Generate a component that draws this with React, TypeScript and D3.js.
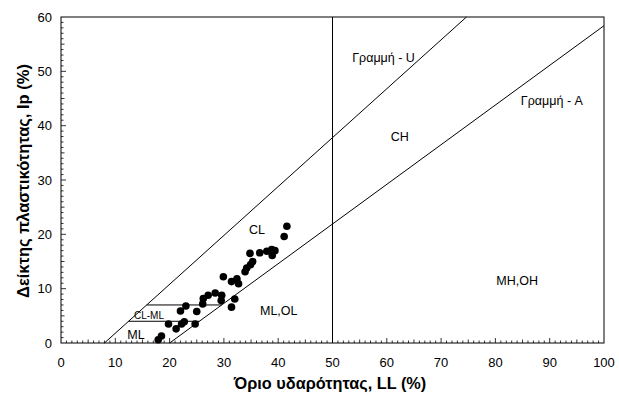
import * as d3 from 'd3';
import React, { useRef, useEffect } from 'react';

// liquid limit LL (%) and plasticity index Ip (%) of the samples
const liquidLimit = [17.9, 18.5, 19.8, 21.2, 22.2, 22.7, 24.7, 22.0, 23.0, 25.0, 26.1, 26.2, 27.1, 28.4, 29.6, 29.5, 29.9, 31.4, 31.4, 32.0, 32.4, 32.7, 33.9, 34.2, 34.9, 35.3, 34.8, 36.6, 37.9, 38.8, 39.4, 38.9, 41.1, 41.6];
const plasticityIndex = [0.6, 1.3, 3.5, 2.6, 3.5, 3.9, 3.5, 5.9, 6.8, 5.8, 7.2, 8.2, 8.8, 9.2, 8.8, 7.8, 12.2, 11.3, 6.6, 8.1, 11.8, 10.9, 13.1, 13.8, 14.4, 15.0, 16.5, 16.6, 16.9, 17.2, 17.0, 16.1, 19.6, 21.5];

const xTicks = [0, 10, 20, 30, 40, 50, 60, 70, 80, 90, 100];
const yTicks = [0, 10, 20, 30, 40, 50, 60];

// zone labels [LL, Ip, text, fontSize]
const zoneLabels: [number, number, string, number][] = [
  [59.4, 51.8, 'Γραμμή - U', 12.5],
  [90.4, 43.8, 'Γραμμή - A', 12.5],
  [62.4, 37.1, 'CH', 12.5],
  [84.0, 10.6, 'MH,OH', 12.5],
  [36.1, 20.1, 'CL', 12.5],
  [40.1, 5.1, 'ML,OL', 12.5],
  [16.2, 4.5, 'CL-ML', 10],
  [13.8, 0.7, 'ML', 12.5],
];

function App() {
  const ref = useRef<SVGSVGElement>(null);
  const width = 619, height = 401;
  const left = 61, right = 604, top = 17, bottom = 343;

  useEffect(() => {
    const svg = d3.select(ref.current);
    svg.selectAll('*').remove();
    const font = 'Arial, "Liberation Sans", sans-serif';

    const x = d3.scaleLinear().domain([0, 100]).range([left, right]);
    const y = d3.scaleLinear().domain([0, 60]).range([bottom, top]);

    const g = svg.append('g');

    // frame
    g.append('rect')
      .attr('x', left).attr('y', top)
      .attr('width', right - left).attr('height', bottom - top)
      .attr('fill', 'none').attr('stroke', '#000').attr('stroke-width', 1);

    // minor / major inward ticks
    const tickLen = (v: number) => (v % 10 === 0 ? 5 : v % 5 === 0 ? 3.5 : 2.5);
    d3.range(1, 100).forEach(v => {
      g.append('line')
        .attr('x1', x(v)).attr('x2', x(v))
        .attr('y1', bottom).attr('y2', bottom - tickLen(v))
        .attr('stroke', '#000').attr('stroke-width', 0.8);
    });
    d3.range(1, 60).forEach(v => {
      g.append('line')
        .attr('x1', left).attr('x2', left + tickLen(v))
        .attr('y1', y(v)).attr('y2', y(v))
        .attr('stroke', '#000').attr('stroke-width', 0.8);
    });

    // tick labels
    g.selectAll('.xt').data(xTicks).enter().append('text')
      .attr('x', d => x(d)).attr('y', 367)
      .attr('text-anchor', 'middle')
      .attr('font-family', font).attr('font-size', 13)
      .text(d => d);
    g.selectAll('.yt').data(yTicks).enter().append('text')
      .attr('x', 52).attr('y', d => y(d) + 4.5)
      .attr('text-anchor', 'end')
      .attr('font-family', font).attr('font-size', 13)
      .text(d => d);

    const line = d3.line<[number, number]>().x(d => x(d[0])).y(d => y(d[1]));
    const drawLine = (pts: [number, number][]) =>
      g.append('path').attr('d', line(pts)).attr('fill', 'none')
        .attr('stroke', '#000').attr('stroke-width', 1);

    // U-line: Ip = 0.9(LL-8), A-line: Ip = 0.73(LL-20), LL = 50, CL-ML band
    drawLine([[8, 0], [8 + 60 / 0.9, 60]]);
    drawLine([[20, 0], [100, 0.73 * 80]]);
    drawLine([[50, 0], [50, 60]]);
    drawLine([[7 / 0.9 + 8, 7], [7 / 0.73 + 20, 7]]);
    drawLine([[4 / 0.9 + 8, 4], [4 / 0.73 + 20, 4]]);

    // samples
    g.selectAll('circle').data(liquidLimit).enter().append('circle')
      .attr('cx', d => x(d))
      .attr('cy', (d, i) => y(plasticityIndex[i]))
      .attr('r', 3.8)
      .attr('fill', '#000');

    // zone labels
    zoneLabels.forEach(([ll, ip, t, fs]) => {
      g.append('text')
        .attr('x', x(ll)).attr('y', y(ip))
        .attr('text-anchor', 'middle')
        .attr('font-family', font).attr('font-size', fs)
        .text(t);
    });

    // axis titles
    g.append('text')
      .attr('x', 330).attr('y', 389)
      .attr('text-anchor', 'middle')
      .attr('font-family', font).attr('font-size', 16.3).attr('font-weight', 'bold')
      .text('Όριο υδαρότητας, LL (%)');
    g.append('text')
      .attr('transform', 'translate(29,181) rotate(-90)')
      .attr('text-anchor', 'middle')
      .attr('font-family', font).attr('font-size', 16.5).attr('font-weight', 'bold')
      .text('Δείκτης πλαστικότητας, Ip (%)');
  }, []);

  return (
    <svg ref={ref} width={width} height={height}
      style={{ position: 'absolute', left: 0, top: 0, background: '#fff' }} />
  );
}

export default App;
